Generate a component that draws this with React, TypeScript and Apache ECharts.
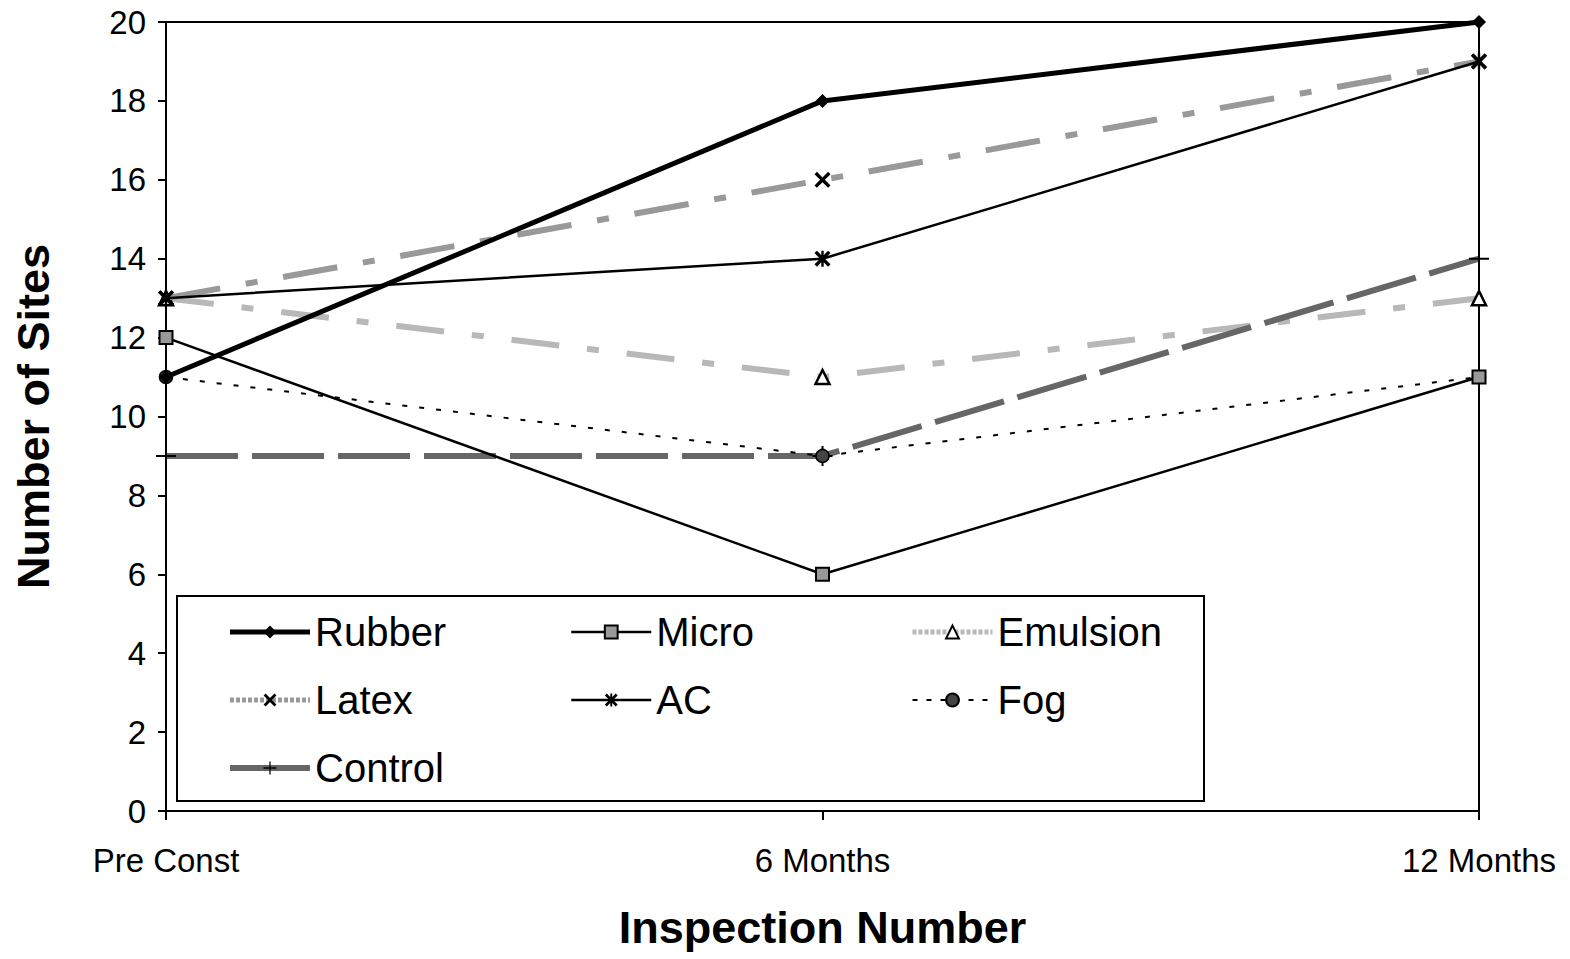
import React, { useEffect, useRef } from "react";
import * as echarts from "echarts";

const categories = ["Pre Const", "6 Months", "12 Months"];
const rubber = [11, 18, 20];
const micro = [12, 6, 11];
const emulsion = [13, 11, 13];
const latex = [13, 16, 19];
const ac = [13, 14, 19];
const fog = [11, 9, 11];
const control = [9, 9, 14];

const X_PATH = "path://M0,3 L3,0 L10,7 L17,0 L20,3 L13,10 L20,17 L17,20 L10,13 L3,20 L0,17 L7,10 Z";
const STAR_PATH = "path://M0,3 L3,0 L10,7 L17,0 L20,3 L13,10 L20,17 L17,20 L10,13 L3,20 L0,17 L7,10 Z M8.5,0 L11.5,0 L11.5,20 L8.5,20 Z";
const PLUS_PATH = "path://M9,0 L11,0 L11,9 L20,9 L20,11 L11,11 L11,20 L9,20 L9,11 L0,11 L0,9 L9,9 Z";

const FONT = "'Liberation Sans', Arial, sans-serif";

const STYLES: Record<string, any> = {
  Rubber: { color: "#000", width: 5, type: "solid" },
  Micro: { color: "#000", width: 2.5, type: "solid" },
  Emulsion: { color: "#b8b8b8", width: 6, type: [48, 28, 12, 28] },
  Latex: { color: "#999", width: 6, type: [55, 26, 12, 26] },
  AC: { color: "#000", width: 2.5, type: "solid" },
  Fog: { color: "#000", width: 2, type: [5, 12] },
  Control: { color: "#666", width: 6, type: [72, 14] },
};

const LEGEND_STYLES: Record<string, any> = {
  Rubber: { color: "#000", width: 5, type: "solid" },
  Micro: { color: "#000", width: 2.5, type: "solid" },
  Emulsion: { color: "#b8b8b8", width: 5, type: [4, 2] },
  Latex: { color: "#999", width: 5, type: [4, 2] },
  AC: { color: "#000", width: 2.5, type: "solid" },
  Fog: { color: "#000", width: 2, type: [5, 9] },
  Control: { color: "#666", width: 6, type: "solid" },
};

export default function App() {
  const ref = useRef<HTMLDivElement>(null);
  useEffect(() => {
    if (!ref.current) return;
    const chart = echarts.init(ref.current, null, { renderer: "svg" });
    const legendCommon = {
      orient: "vertical" as const,
      itemWidth: 80,
      itemHeight: 16,
      itemGap: 28,
      selectedMode: false,
      textStyle: { fontFamily: FONT, fontSize: 40, color: "#000", lineHeight: 40 },
      z: 10,
    };
    const ld = (names: string[]) => names.map((n) => ({ name: n, lineStyle: LEGEND_STYLES[n] }));
    chart.setOption({
      animation: false,
      backgroundColor: "#fff",
      grid: {
        left: 166,
        right: 91,
        top: 22,
        bottom: 148,
        show: true,
        borderColor: "#000",
        borderWidth: 2,
        backgroundColor: "transparent",
      },
      xAxis: {
        type: "category",
        data: categories,
        boundaryGap: false,
        axisLine: { lineStyle: { color: "#000", width: 2 } },
        axisTick: { show: true, length: 9, alignWithLabel: true, lineStyle: { color: "#000", width: 2 } },
        axisLabel: { color: "#000", fontFamily: FONT, fontSize: 33, margin: 33 },
        splitLine: { show: false },
        name: "Inspection Number",
        nameLocation: "middle",
        nameGap: 94,
        nameTextStyle: { fontFamily: FONT, fontSize: 45, fontWeight: "bold", color: "#000" },
      },
      yAxis: {
        type: "value",
        min: 0,
        max: 20,
        interval: 2,
        axisLine: { show: true, lineStyle: { color: "#000", width: 2 } },
        axisTick: { show: true, length: 8, lineStyle: { color: "#000", width: 2 } },
        axisLabel: { color: "#000", fontFamily: FONT, fontSize: 33, margin: 20 },
        splitLine: { show: false },
        name: "Number of Sites",
        nameLocation: "middle",
        nameGap: 110,
        nameTextStyle: { fontFamily: FONT, fontSize: 45, fontWeight: "bold", color: "#000" },
      },
      legend: [
        { ...legendCommon, left: 222, top: 607, data: ld(["Rubber", "Latex", "Control"]) },
        { ...legendCommon, left: 565, top: 607, data: ld(["Micro", "AC"]) },
        { ...legendCommon, left: 905, top: 607, data: ld(["Emulsion", "Fog"]) },
      ],
      graphic: [
        {
          type: "rect",
          left: 176,
          top: 595,
          shape: { width: 1027, height: 205 },
          style: { fill: "#fff", stroke: "#000", lineWidth: 2 },
          z: 5,
        },
      ],
      series: [
        {
          name: "Rubber",
          type: "line",
          data: rubber,
          symbol: "diamond",
          symbolSize: 14,
          itemStyle: { color: "#000" },
          lineStyle: STYLES.Rubber,
          z: 9,
        },
        {
          name: "Micro",
          type: "line",
          data: micro,
          symbol: "rect",
          symbolSize: 13,
          itemStyle: { color: "#999", borderColor: "#000", borderWidth: 2 },
          lineStyle: STYLES.Micro,
          z: 8,
        },
        {
          name: "Emulsion",
          type: "line",
          data: emulsion,
          symbol: "triangle",
          symbolSize: 14,
          itemStyle: { color: "#fff", borderColor: "#000", borderWidth: 2.5 },
          lineStyle: STYLES.Emulsion,
          z: 3,
        },
        {
          name: "Latex",
          type: "line",
          data: latex,
          symbol: X_PATH,
          symbolSize: 16,
          itemStyle: { color: "#000" },
          lineStyle: STYLES.Latex,
          z: 4,
        },
        {
          name: "AC",
          type: "line",
          data: ac,
          symbol: STAR_PATH,
          symbolSize: 16,
          itemStyle: { color: "#000" },
          lineStyle: STYLES.AC,
          z: 7,
        },
        {
          name: "Fog",
          type: "line",
          data: fog,
          symbol: "circle",
          symbolSize: 13,
          itemStyle: { color: "#444", borderColor: "#000", borderWidth: 1.5 },
          lineStyle: STYLES.Fog,
          z: 6,
        },
        {
          name: "Control",
          type: "line",
          data: control,
          symbol: PLUS_PATH,
          symbolSize: 20,
          itemStyle: { color: "#000" },
          lineStyle: STYLES.Control,
          z: 5,
        },
      ],
    });
    return () => chart.dispose();
  }, []);
  return <div ref={ref} style={{ width: 1570, height: 959, position: "absolute", left: 0, top: 0 }} />;
}
